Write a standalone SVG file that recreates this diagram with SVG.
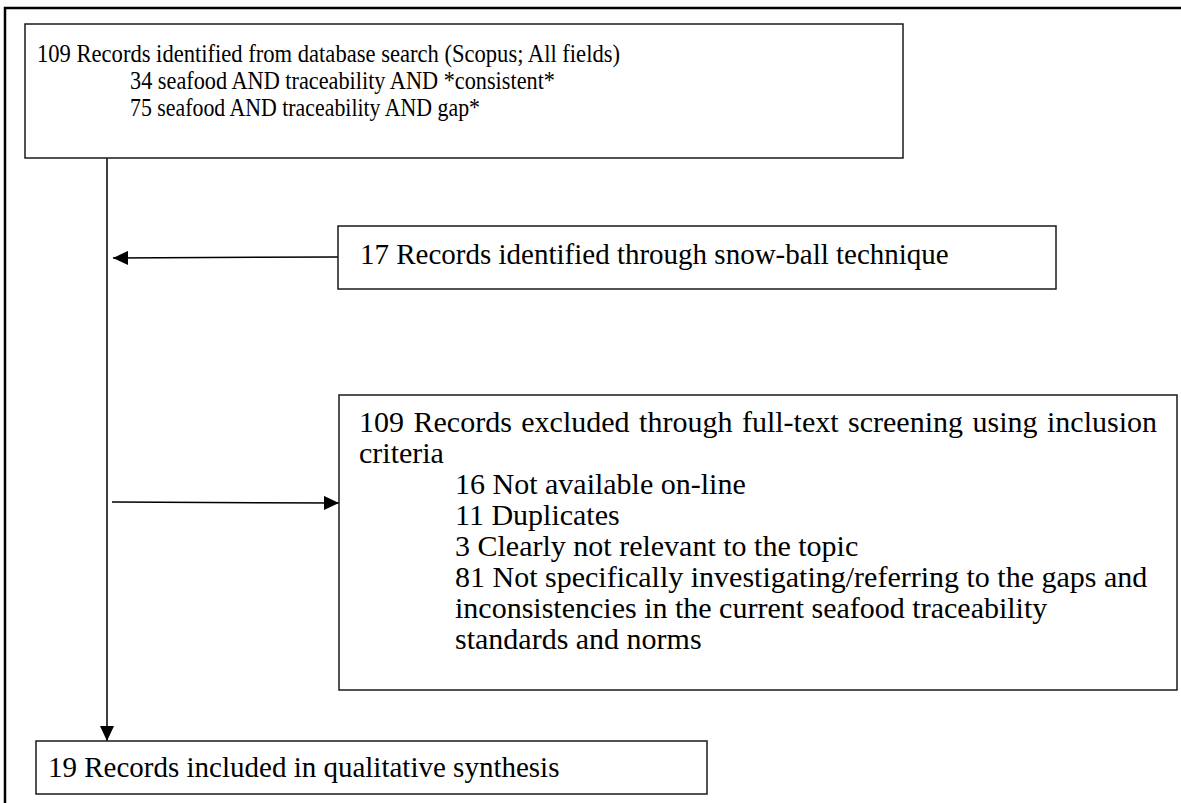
<svg xmlns="http://www.w3.org/2000/svg" width="1181" height="803" viewBox="0 0 1181 803">
  <style>
    .box { fill: #ffffff; stroke: #1a1a1a; stroke-width: 1.5; }
    .frame { fill: none; stroke: #000000; stroke-width: 2.5; }
    .link { fill: none; stroke: #000000; stroke-width: 1.5; }
    .t { font-family: "Liberation Serif", "Times New Roman", serif; fill: #000000; }
    .s26 { font-size: 26px; }
    .s29 { font-size: 29px; }
    .s30 { font-size: 30px; }
  </style>
  <defs>
    <marker id="headBig" markerWidth="15" markerHeight="14" refX="15" refY="7" orient="auto" markerUnits="userSpaceOnUse" viewBox="0 0 15 14">
      <path d="M0,0 L15,7 L0,14 Z" fill="#000000"/>
    </marker>
  </defs>

  <rect width="1181" height="803" fill="#ffffff"/>

  <!-- outer frame: top and left edges only -->
  <path class="frame" d="M5,830 L5,8 L1190,8"/>

  <g id="connectors">
    <line class="link" x1="107" y1="158" x2="107" y2="741" marker-end="url(#headBig)"/>
    <line class="link" x1="338" y1="257" x2="113" y2="258" marker-end="url(#headBig)"/>
    <line class="link" x1="112" y1="502" x2="339" y2="503" marker-end="url(#headBig)"/>
  </g>

  <g id="identified">
    <rect class="box" x="25" y="24" width="878" height="134"/>
    <text class="t s26" x="37" y="62" textLength="583" lengthAdjust="spacingAndGlyphs">109 Records identified from database search (Scopus; All fields)</text>
    <text class="t s26" x="130" y="89" textLength="425" lengthAdjust="spacingAndGlyphs">34 seafood AND traceability AND *consistent*</text>
    <text class="t s26" x="130" y="116" textLength="350" lengthAdjust="spacingAndGlyphs">75 seafood AND traceability AND gap*</text>
  </g>

  <g id="snowball">
    <rect class="box" x="338" y="226" width="718" height="63"/>
    <text class="t s29" x="360" y="264">17 Records identified through snow-ball technique</text>
  </g>

  <g id="excluded">
    <rect class="box" x="339" y="395" width="838" height="295"/>
    <text class="t s30" x="359" y="432" word-spacing="2">109 Records excluded through full-text screening using inclusion</text>
    <text class="t s30" x="359" y="463">criteria</text>
    <text class="t s30" x="455" y="494">16 Not available on-line</text>
    <text class="t s30" x="455" y="525">11 Duplicates</text>
    <text class="t s30" x="455" y="556">3 Clearly not relevant to the topic</text>
    <text class="t s30" x="455" y="587">81 Not specifically investigating/referring to the gaps and</text>
    <text class="t s30" x="455" y="618">inconsistencies in the current seafood traceability</text>
    <text class="t s30" x="455" y="649">standards and norms</text>
  </g>

  <g id="included">
    <rect class="box" x="36" y="741" width="671" height="53"/>
    <text class="t s29" x="48" y="777">19 Records included in qualitative synthesis</text>
  </g>
</svg>
